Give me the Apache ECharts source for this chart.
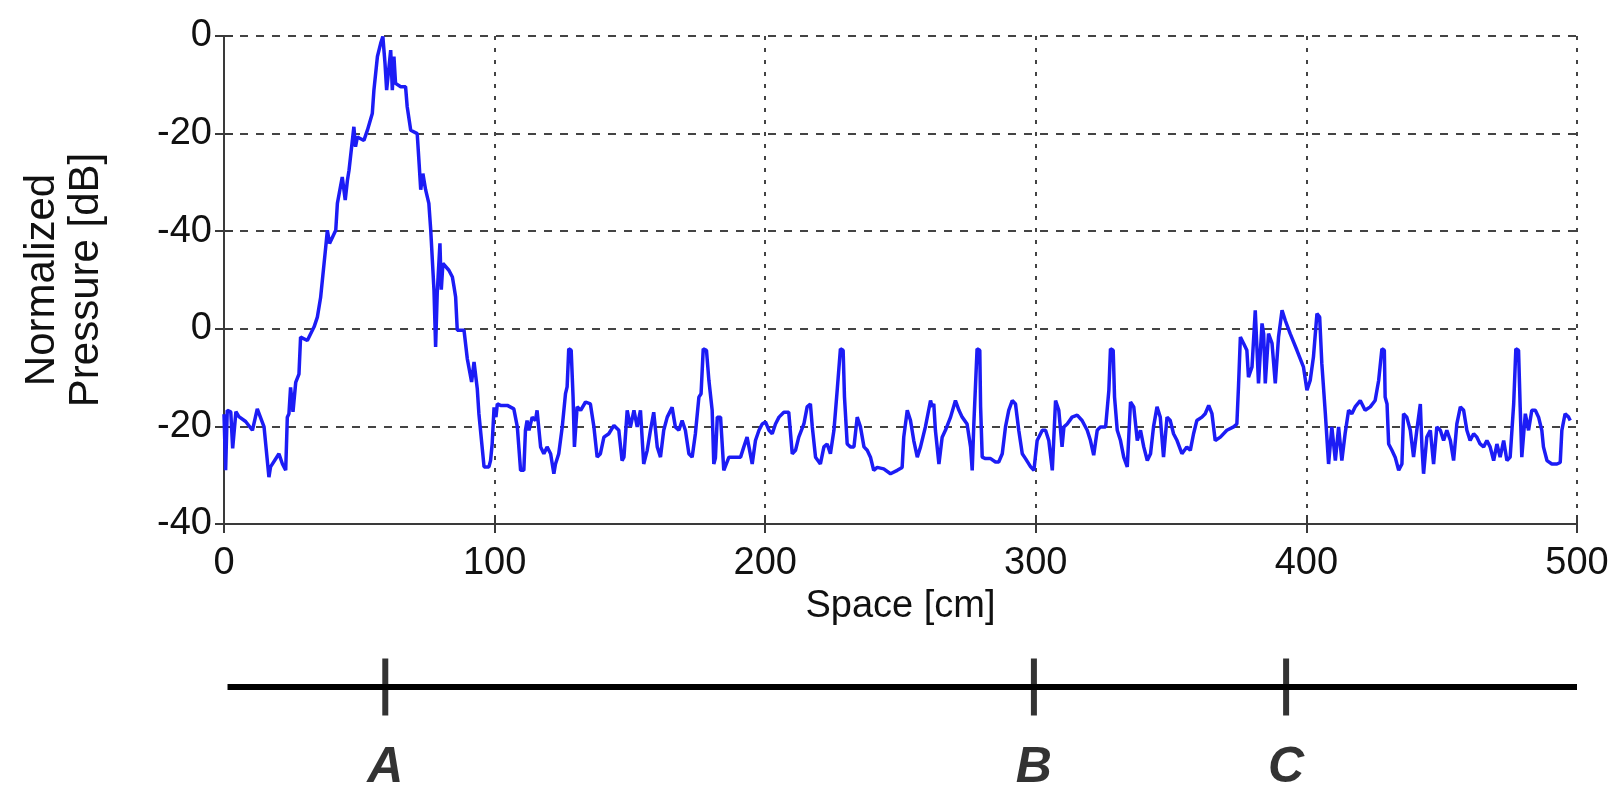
<!DOCTYPE html>
<html>
<head>
<meta charset="utf-8">
<script src="https://cdn.jsdelivr.net/npm/echarts@6/dist/echarts.min.js"></script>
<style>
html,body{margin:0;padding:0;background:#fff;}
#chart{width:1619px;height:787px;}
</style>
</head>
<body>
<div id="chart"></div>
<script>
// Space positions [cm]
var space = [
0,0.6,1.2,2.5,3.2,4.4,5.5,8.0,10.5,12.3,14.8,16.6,17.2,20.3,21.6,22.8,23.4,24.0,24.6,25.5,26.5,27.7,28.3,30.8,33.3,34.5,35.7,37.6,38.2,39,41.3,41.9,43.7,44.8,45.6,46.2,48.0,48.6,49.3,51.7,53,54.8,55.4,56.7,57.9,58.7,59.5,60.1,61.6,62.2,62.8,63.4,65.3,67.1,67.7,69,71.4,72.1,72.7,73.5,74.5,75.7,76.4,77.6,78.2,78.8,79.8,80.3,80.9,83.1,84.4,85.0,85.6,86.2,88.7,89.9,91.5,92.4,93.6,94.2,96.1,97.9,98.5,99.1,99.8,100.5,101,
102.2,104.7,105.3,107.1,108.4,109.6,110.8,111.4,112.0,112.7,113.9,115.1,115.7,117.0,118.2,119.4,120.7,121.9,122.5,123.7,125.0,126.2,126.8,127.4,128.3,129.0,129.5,130.5,131.8,133.6,135.4,136.7,137.9,139.1,140.4,142.2,144.1,145.9,147.1,147.8,149.0,150.2,151.5,152.7,153.9,155.1,156.4,157.6,158.8,160.1,161.3,162.5,163.8,165.6,166.8,168.1,169.3,170.5,171.8,173.0,174.2,175.5,176.3,177.1,178.3,179.2,180.4,181.0,181.6,182.3,183.5,184.7,185.3,186.6,188.4,190.9,192.1,193.3,194.0,195.2,196.4,197.7,198.9,200.1,201.4,202.6,203.8,205.1,206.9,208.7,210.0,211.2,212.4,214.3,215.5,216.7,217.4,218.6,220.4,221.7,222.9,224.1,225.4,226.6,227.8,228.8,229.3,230.3,231.5,232.8,234.0,235.2,236.5,237.7,238.9,240.1,241.4,243.8,246.3,248.8,250.6,251.2,252.5,253.7,254.9,256.2,257.4,259.2,261.1,261.7,262.3,262.9,264.2,
265.4,266.6,268.5,270.3,271.6,272.8,274.6,275.9,276.5,277.1,278.3,279.3,279.6,280.2,281.4,283.3,285.1,286.3,287.6,288.8,290.0,291.3,292.5,293.7,295.0,296.2,298.1,299.3,300.5,302.4,303.6,304.8,306.1,307.3,308.5,309.7,310.4,311.6,313.4,315.3,317.1,319.0,320.2,321.4,322.7,323.9,325.8,327.0,327.6,328.6,329.1,330.1,331.3,332.5,333.8,335.0,336.2,337.5,338.7,339.9,341.2,342.4,343.5,344.8,346.0,347.2,348.5,349.7,350.9,352.2,354.0,355.8,357.1,358.3,359.5,361.4,362.6,363.9,365.1,366.3,368.2,370.6,373.1,374.3,374.9,375.6,376.8,378.0,378.6,379.9,381.1,382.3,383.6,384.2,384.8,386.0,387.3,388.5,389.7,391.0,392.2,394.0,396.5,398.9,400.2,401.4,402.6,403.9,404.9,405.7,407.0,408.2,409.4,410.7,411.9,413.1,414.3,415.6,416.8,418.0,419.9,421.7,423.6,425.4,426.7,427.9,428.8,429.1,429.8,430.4,431.6,432.8,434.1,435.3,435.9,437.1,438.4,439.6,440.8,442.1,442.7,443.3,444.5,445.8,447.0,448.2,449.5,450.7,451.9,453.2,454.4,455.6,456.9,458.1,459.3,460.5,461.8,463.0,464.2,465.5,466.7,467.9,469.2,470.4,471.6,472.9,474.1,475.3,476.6,477.4,478.4,479.0,479.6,480.9,482.1,483.3,484.6,485.8,487.0,487.6,488.9,490.7,492.6,493.8,494.4,495.6,496.9,497.5
];
// Plotted level (axis units, 0 = bottom, 100 = top of the plot)
var pressure = [
22.5,11,23.3,23,15.5,23,22,21,19.2,23.6,19.9,9.6,11.7,14.4,12.3,11,21.9,22.6,28,23,29,30.7,38.3,37.6,40.4,42.4,46.4,56.8,60.2,57.5,60.2,65.7,71.1,66.4,70.4,72.5,81.4,77.3,79.3,78.6,80.7,84.1,88.9,95.8,98.5,99.9,94.4,88.9,97.1,88.9,95.8,90.3,89.6,89.6,85.5,80.7,80,73.9,68.5,71.8,68.5,65.7,60.2,47.9,36.3,47.3,57.5,48,53.4,52.0,50.6,48.6,46.5,39.7,39.7,33.9,29.1,33.2,27.7,22.6,11.7,11.7,13.0,16.4,23.9,21.9,24.6,
24.3,24.3,24.0,23.6,19.9,11.0,11.0,19.2,21.2,19.2,21.9,21.2,23.3,15.8,14.4,15.8,14.4,10.3,12.3,14.4,19.9,26.7,28.1,35.9,35.6,26.0,15.8,24.0,23.3,25.0,24.6,19.9,13.7,14.4,17.8,18.5,20.2,19.2,13.0,13.7,23.3,19.9,23.3,19.9,23.3,12.3,15.1,19.2,22.9,15.8,13.7,19.2,21.9,23.9,19.9,19.2,21.2,19.2,14.4,13.7,18.5,26.0,26.7,35.9,35.6,29.4,23.3,12.3,13.5,21.9,21.9,11.0,11.0,13.7,13.7,13.7,15.8,17.8,15.8,12.3,17.1,19.2,20.5,20.9,19.2,18.5,20.5,21.9,22.9,22.9,14.4,15.1,17.8,20.5,24.0,24.6,19.9,13.7,12.3,15.8,16.4,14.4,19.2,27.4,35.9,35.6,26.0,16.4,15.8,15.8,21.9,19.9,15.8,15.1,13.7,11.0,11.6,11.3,10.3,11.0,11.6,17.8,23.3,21.2,17.1,13.7,15.8,19.9,25.3,24.0,24.6,19.2,12.3,
17.8,19.2,21.9,25.3,23.3,21.9,20.5,15.8,11.0,20.5,35.9,35.6,24.0,13.7,13.4,13.4,12.7,12.7,14.4,19.9,23.3,25.3,24.6,19.2,14.4,13.4,11.7,11.0,17.1,19.2,19.2,17.1,11.0,25.3,23.3,15.8,19.9,20.5,21.9,22.3,21.2,19.2,17.1,14.1,19.2,19.9,19.9,27.4,35.9,35.6,26.0,19.2,17.1,13.7,11.7,25.0,24.0,17.1,19.2,15.8,13.0,14.4,19.9,24.0,21.9,13.7,21.9,21.2,18.5,17.1,14.4,15.8,15.1,18.5,21.2,21.9,22.6,24.3,22.6,17.1,17.8,19.2,19.9,20.5,28.1,38.3,37.0,35.6,30.1,32.2,43.8,28.8,41.1,39.0,28.8,39.0,37.0,28.8,38.3,43.8,41.7,39.0,35.6,32.2,27.4,29.4,34.2,43.1,42.4,32.9,22.6,12.3,19.9,13.0,19.9,13.0,18.5,23.3,22.6,24.0,25.3,23.3,24.0,25.3,29.4,35.9,35.6,26.0,24.6,16.4,15.1,13.7,11.0,12.3,22.6,21.9,19.2,13.7,19.2,24.6,15.8,10.3,17.8,19.2,12.3,19.9,19.2,17.1,19.2,17.1,13.0,20.5,24.0,23.3,19.2,17.1,18.5,17.8,16.4,15.8,17.1,15.8,13.0,16.4,13.7,17.1,13.0,13.7,24.6,35.9,35.6,24.0,13.7,22.6,19.2,23.3,23.3,21.9,19.2,15.8,13.0,12.3,12.3,12.6,19.2,22.6,21.9,21.2
];
var yTickLabels = ['-40', '-20', '0', '-40', '-20', '0'];
var xTickValues = [0, 100, 200, 300, 400, 500];
var scaleStart = 1.3, scaleEnd = 500;
var markerNames = ['A', 'B', 'C'];
var markerPos = [59.6, 299.3, 392.5];

var FONT = 'Liberation Sans';
var AX = '#3a3a3a';
var TXT = '#111';
var lineData = space.map(function (s, i) { return [s, pressure[i]]; });
var markerData = markerNames.map(function (n, i) { return { name: n, value: [markerPos[i], 0] }; });

var chart = echarts.init(document.getElementById('chart'));
chart.setOption({
  animation: false,
  backgroundColor: '#fff',
  grid: [
    { left: 224, top: 36, width: 1353, height: 488 },
    { left: 224, top: 659, width: 1353, height: 56 }
  ],
  xAxis: [
    {
      gridIndex: 0, type: 'value', min: 0, max: 500, interval: 100,
      axisLine: { show: true, lineStyle: { color: AX, width: 2 } },
      axisTick: { show: true, inside: true, length: 9, lineStyle: { color: AX, width: 2 } },
      axisLabel: { fontSize: 38, color: TXT, fontFamily: FONT, margin: 21,
        formatter: function (v) { return xTickValues.indexOf(v) >= 0 ? String(v) : ''; } },
      splitLine: { show: true, lineStyle: { type: [4, 8], color: '#444', width: 2 } },
      name: 'Space [cm]', nameLocation: 'middle', nameGap: 53,
      nameTextStyle: { fontSize: 38, color: TXT, fontFamily: FONT }
    },
    {
      gridIndex: 0, type: 'value', min: 0, max: 500, interval: 100, position: 'top',
      axisLine: { show: true, lineStyle: { color: AX, width: 2 } },
      axisTick: { show: true, inside: true, length: 9, lineStyle: { color: AX, width: 2 } },
      axisLabel: { show: false }, splitLine: { show: false }
    },
    { gridIndex: 1, type: 'value', min: 0, max: 500, show: false }
  ],
  yAxis: [
    {
      gridIndex: 0, type: 'value', min: 0, max: 100, interval: 20,
      axisLine: { show: true, lineStyle: { color: AX, width: 2 } },
      axisTick: { show: true, inside: true, length: 9, lineStyle: { color: AX, width: 2 } },
      axisLabel: { fontSize: 38, color: TXT, fontFamily: FONT, margin: 12,
        formatter: function (v) { return yTickLabels[Math.round(v / 20)]; } },
      splitLine: { show: true, lineStyle: { type: [8, 8], color: '#444', width: 2 } },
      name: 'Normalized\nPressure [dB]', nameLocation: 'middle', nameGap: 116,
      nameTextStyle: { fontSize: 42, color: TXT, fontFamily: FONT, lineHeight: 44 }
    },
    {
      gridIndex: 0, type: 'value', min: 0, max: 100, interval: 20, position: 'right',
      axisLine: { show: true, lineStyle: { color: AX, width: 2 } },
      axisTick: { show: true, inside: true, length: 9, lineStyle: { color: AX, width: 2 } },
      axisLabel: { show: false }, splitLine: { show: false }
    },
    { gridIndex: 1, type: 'value', min: -1, max: 1, show: false }
  ],
  series: [
    {
      type: 'line', xAxisIndex: 0, yAxisIndex: 0, data: lineData,
      showSymbol: false, symbol: 'none',
      lineStyle: { color: '#1c1cf5', width: 3.5 }
    },
    {
      type: 'line', xAxisIndex: 2, yAxisIndex: 2,
      data: [[scaleStart, 0], [scaleEnd, 0]],
      showSymbol: false, symbol: 'none',
      lineStyle: { color: '#000', width: 6 }
    },
    {
      type: 'scatter', xAxisIndex: 2, yAxisIndex: 2, data: markerData,
      symbol: 'rect', symbolSize: [6, 57],
      itemStyle: { color: '#000' },
      label: { show: true, position: 'bottom', distance: 28, formatter: '{b}',
        fontSize: 50, fontWeight: 'bold', fontStyle: 'italic', color: '#000', fontFamily: FONT }
    }
  ]
});
</script>
</body>
</html>
